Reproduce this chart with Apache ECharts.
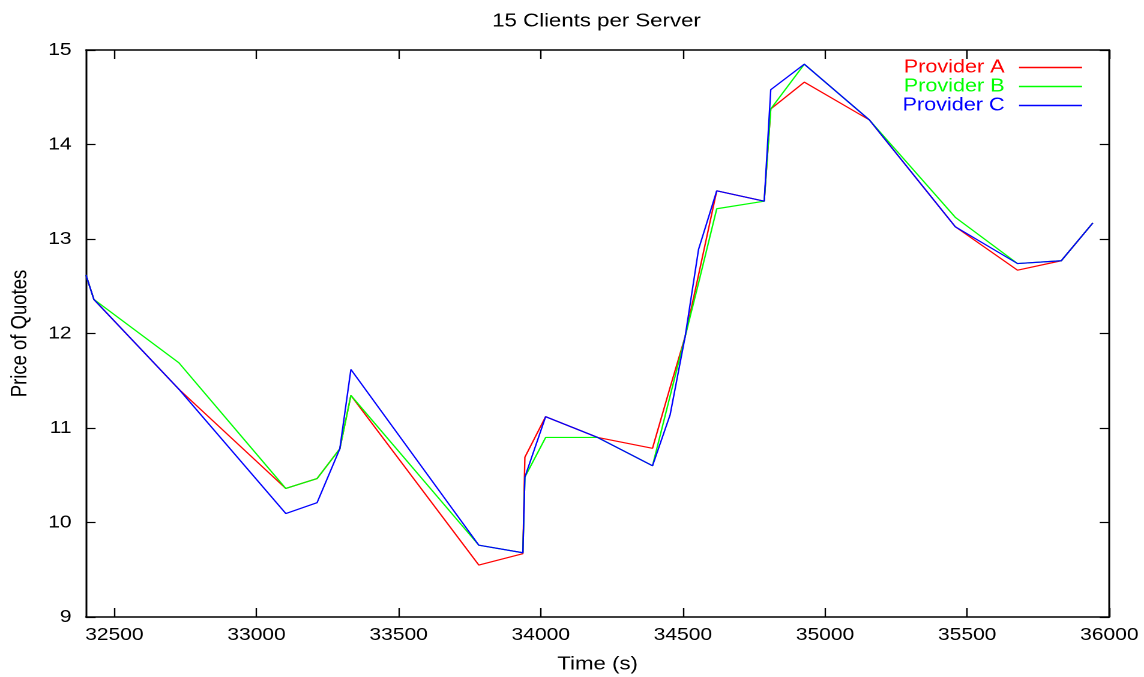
<!DOCTYPE html>
<html>
<head>
<meta charset="utf-8">
<title>15 Clients per Server</title>
<script src="https://cdn.jsdelivr.net/npm/echarts@6/dist/echarts.min.js"></script>
<style>
  html, body { margin: 0; padding: 0; background: #fff; overflow: hidden; }
  #wrap { width: 1144px; height: 677px; overflow: hidden; }
  /* the plot is laid out on a 953px-wide canvas and widened to the page */
  #chart { width: 953px; height: 677px; transform: scaleX(1.20042); transform-origin: 0 0; }
</style>
</head>
<body>
<div id="wrap"><div id="chart"></div></div>
<script>
// Sample times (s) shared by all three providers
const times = [32400, 32428, 32727, 33103, 33213, 33293, 33332, 33782, 33937, 33944, 34017, 34200, 34393,
               34455, 34508, 34555, 34619, 34786, 34809, 34927, 35156, 35458, 35677, 35831, 35942];

// Price of quotes per provider at each sample time
const providerA = [12.62, 12.36, 11.41, 10.36, 10.465, 10.78, 11.345, 9.55, 9.67, 10.69, 11.12, 10.90, 10.785,
                   11.43, 11.97, 12.62, 13.51, 13.40, 14.376, 14.66, 14.26, 13.13, 12.67, 12.77, 13.17];
const providerB = [12.62, 12.36, 11.69, 10.36, 10.465, 10.78, 11.345, 9.76, 9.68, 10.48, 10.90, 10.90, 10.60,
                   11.34, 11.97, 12.535, 13.32, 13.40, 14.376, 14.85, 14.26, 13.23, 12.74, 12.77, 13.17];
const providerC = [12.62, 12.36, 11.41, 10.095, 10.21, 10.78, 11.62, 9.76, 9.68, 10.48, 11.12, 10.90, 10.60,
                   11.14, 11.97, 12.89, 13.51, 13.40, 14.58, 14.85, 14.26, 13.13, 12.74, 12.77, 13.17];

const seriesNames = ['Provider A', 'Provider B', 'Provider C'];

// Axis ticks
const timeTicks = [32500, 33000, 33500, 34000, 34500, 35000, 35500, 36000];
const priceTicks = [9, 10, 11, 12, 13, 14, 15];

const FONT = "'Liberation Sans', Arial, Helvetica, sans-serif";
const colors = ['#ff0000', '#00ff00', '#0000ff'];

const pair = (vals) => times.map((t, i) => [t, vals[i]]);

const chart = echarts.init(document.getElementById('chart'), null, { renderer: 'canvas', devicePixelRatio: 2 });

const axisLine = { show: true, lineStyle: { color: '#000', width: 1.5 } };

const option = {
  animation: false,
  backgroundColor: '#fff',
  textStyle: { fontFamily: FONT },
  title: {
    text: '15 Clients per Server',
    left: 410, top: 12, padding: 0,
    textAlign: 'left',
    textStyle: { fontFamily: FONT, fontSize: 18.5, fontWeight: 'normal', color: '#000' }
  },
  legend: {
    orient: 'vertical',
    right: 51.6, top: 58, padding: 0,
    align: 'right',
    itemWidth: 52.5, itemHeight: 1.4, itemGap: 0,
    icon: 'rect',
    selectedMode: false,
    textStyle: { fontFamily: FONT, fontSize: 18, lineHeight: 19, padding: [0, 7, 0, 0] },
    data: seriesNames.map((n, i) => ({ name: n, textStyle: { color: colors[i] } }))
  },
  grid: { left: 71.6, right: 28.9, top: 50, bottom: 60, containLabel: false, outerBoundsMode: 'none' },
  xAxis: [{
    type: 'value', position: 'bottom',
    min: 32400, max: 36000,
    name: 'Time (s)', nameLocation: 'middle', nameGap: 38, nameMoveOverlap: false,
    nameTextStyle: { fontFamily: FONT, fontSize: 18.5, color: '#000' },
    axisLine,
    axisTick: { show: true, inside: true, length: 9, customValues: timeTicks, lineStyle: { color: '#000', width: 1.2 } },
    axisLabel: { customValues: timeTicks, margin: 9, fontFamily: FONT, fontSize: 17.5, color: '#000', formatter: v => String(v) },
    splitLine: { show: false }
  }, {
    type: 'value', position: 'top',
    min: 32400, max: 36000,
    axisLine,
    axisTick: { show: true, inside: true, length: 9, customValues: timeTicks, lineStyle: { color: '#000', width: 1.2 } },
    axisLabel: { show: false },
    splitLine: { show: false }
  }],
  yAxis: [{
    type: 'value', position: 'left',
    min: 9, max: 15, interval: 1,
    name: 'Price of Quotes', nameLocation: 'middle', nameGap: 45, nameMoveOverlap: false,
    nameTextStyle: { fontFamily: FONT, fontSize: 18.5, color: '#000' },
    axisLine,
    axisTick: { show: true, inside: true, length: 8, customValues: priceTicks, lineStyle: { color: '#000', width: 1.2 } },
    axisLabel: { customValues: priceTicks, margin: 12, fontFamily: FONT, fontSize: 17.5, color: '#000', formatter: v => String(v) },
    splitLine: { show: false }
  }, {
    type: 'value', position: 'right',
    min: 9, max: 15, interval: 1,
    axisLine,
    axisTick: { show: true, inside: true, length: 8, customValues: priceTicks, lineStyle: { color: '#000', width: 1.2 } },
    axisLabel: { show: false },
    splitLine: { show: false }
  }],
  series: [providerA, providerB, providerC].map((vals, i) => ({
    name: seriesNames[i],
    type: 'line',
    xAxisIndex: 0, yAxisIndex: 0,
    data: pair(vals),
    symbol: 'none', showSymbol: false,
    itemStyle: { color: colors[i] },
    lineStyle: { color: colors[i], width: 1.2 },
    emphasis: { disabled: true },
    z: 2 + i
  }))
};

chart.setOption(option);
</script>
</body>
</html>
